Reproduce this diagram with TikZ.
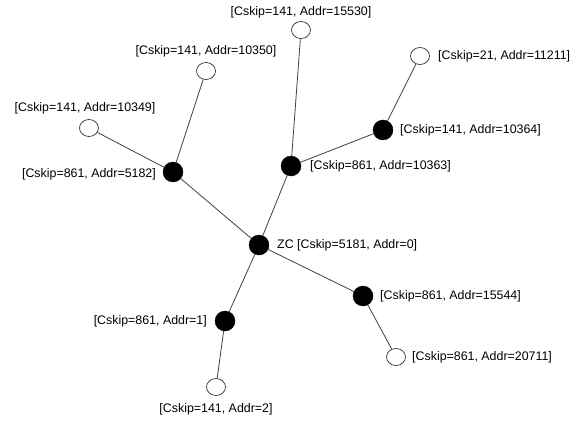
\documentclass[tikz,border=0pt]{standalone}
\usepackage{fontspec}
\setmainfont{Liberation Sans}
\usetikzlibrary{shapes.geometric}
\begin{document}
\begin{tikzpicture}[x=1pt,y=-1pt,
  blk/.style={circle,fill=black,draw=black,minimum size=20pt,inner sep=0pt},
  wht/.style={ellipse,fill=white,draw=black!80,line width=0.7pt,minimum width=19pt,minimum height=17pt,inner sep=0pt},
  lbl/.style={inner sep=0pt,font=\fontsize{12.4}{14}\selectfont},
  edge/.style={draw=black!75,line width=0.8pt}]
\useasboundingbox (0,0) rectangle (585,422);
% nodes
\node[blk] (zc) at (259,245) {};
\node[blk] (n5182) at (173,172) {};
\node[wht] (n10350) at (206,71) {};
\node[wht] (n10349) at (89,128) {};
\node[blk] (n10363) at (291,166) {};
\node[wht] (n15530) at (301,30) {};
\node[blk] (n10364) at (383,130) {};
\node[wht] (n11211) at (420,56) {};
\node[blk] (n15544) at (363,296) {};
\node[wht] (n20711) at (396,357) {};
\node[blk] (n1) at (225,321) {};
\node[wht] (n2) at (216,387) {};
% edges
\draw[edge] (zc) -- (n5182);
\draw[edge] (n5182) -- (n10349);
\draw[edge] (n5182) -- (n10350);
\draw[edge] (zc) -- (n10363);
\draw[edge] (n10363) -- (n15530);
\draw[edge] (n10363) -- (n10364);
\draw[edge] (n10364) -- (n11211);
\draw[edge] (zc) -- (n15544);
\draw[edge] (n15544) -- (n20711);
\draw[edge] (zc) -- (n1);
\draw[edge] (n1) -- (n2);
% labels
\node[lbl] (l15530) at (301,12) {[Cskip=141, Addr=15530]};
\node[lbl] (l10350) at (206,51) {[Cskip=141, Addr=10350]};
\node[lbl] (l10349) at (85,108) {[Cskip=141, Addr=10349]};
\node[lbl,anchor=east] (l5182) at (156,174) {[Cskip=861, Addr=5182]};
\node[lbl,anchor=west] (l10363) at (310,166) {[Cskip=861, Addr=10363]};
\node[lbl,anchor=west] (l10364) at (400,130) {[Cskip=141, Addr=10364]};
\node[lbl,anchor=west] (l11211) at (438,56) {[Cskip=21, Addr=11211]};
\node[lbl,anchor=west] (lzc) at (277,245) {ZC [Cskip=5181, Addr=0]};
\node[lbl,anchor=west] (l15544) at (380,296) {[Cskip=861, Addr=15544]};
\node[lbl,anchor=west] (l20711) at (412,357) {[Cskip=861, Addr=20711]};
\node[lbl,anchor=east] (l1) at (207,321) {[Cskip=861, Addr=1]};
\node[lbl] (l2) at (216,409) {[Cskip=141, Addr=2]};
\end{tikzpicture}
\end{document}
